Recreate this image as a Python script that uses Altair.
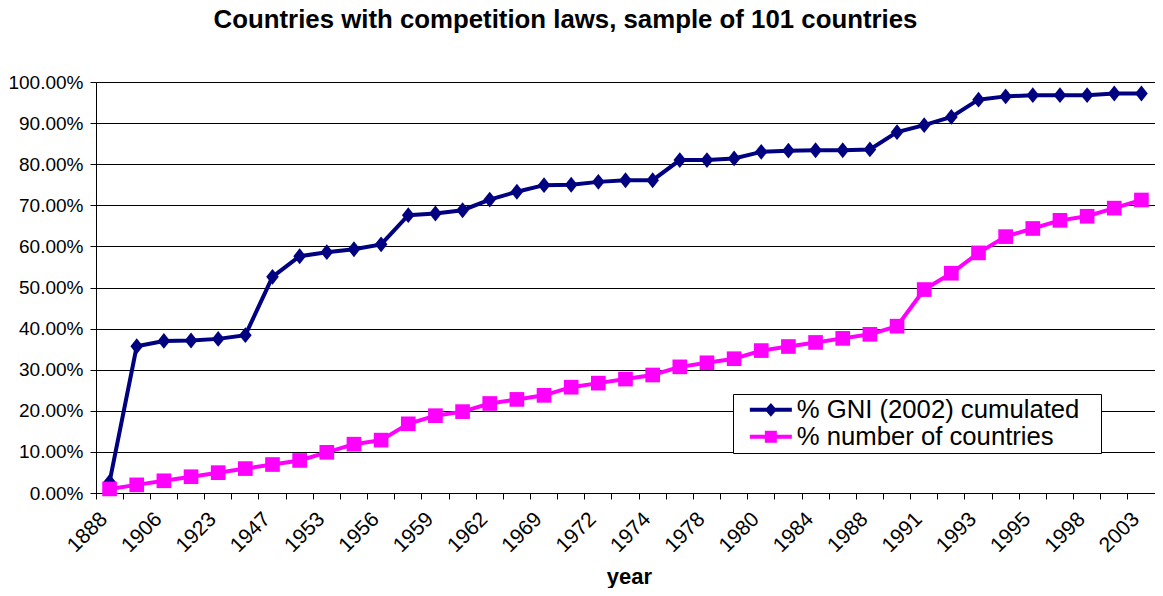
import altair as alt
import pandas as pd

# ---- data ----
year_labels = ["1888", "1906", "1923", "1947", "1953", "1956", "1959", "1962", "1969", "1972",
               "1974", "1978", "1980", "1984", "1988", "1991", "1993", "1995", "1998", "2003"]

gni_cum = [0.027, 0.357, 0.370, 0.371, 0.375, 0.384, 0.526, 0.576, 0.586, 0.593,
           0.605, 0.676, 0.680, 0.688, 0.714, 0.733, 0.749, 0.750, 0.757, 0.761,
           0.761, 0.810, 0.810, 0.814, 0.830, 0.833, 0.834, 0.834, 0.836, 0.878,
           0.895, 0.915, 0.957, 0.965, 0.968, 0.968, 0.968, 0.972, 0.972]

countries_share = [0.0099, 0.0198, 0.0297, 0.0396, 0.0495, 0.0594, 0.0693, 0.0792, 0.0990, 0.1188,
                   0.1287, 0.1683, 0.1881, 0.1980, 0.2178, 0.2277, 0.2376, 0.2574, 0.2673, 0.2772,
                   0.2871, 0.3069, 0.3168, 0.3267, 0.3465, 0.3564, 0.3663, 0.3762, 0.3861, 0.4059,
                   0.4950, 0.5347, 0.5842, 0.6238, 0.6436, 0.6634, 0.6733, 0.6931, 0.7129]

series_names = ["% GNI (2002) cumulated", "% number of countries"]
series_colors = ["#000080", "#FF00FF"]
y_ticks = [0.0, 0.1, 0.2, 0.3, 0.4, 0.5, 0.6, 0.7, 0.8, 0.9, 1.0]

# ---- table ----
n = len(gni_cum)
rows = []
for i in range(n):
    rows.append({"idx": i, "series": series_names[0], "value": gni_cum[i]})
    rows.append({"idx": i, "series": series_names[1], "value": countries_share[i]})
df = pd.DataFrame(rows)

FONT = "Liberation Sans"

label_array = "[" + ",".join("'" + y + "'" for y in year_labels) + "]"
label_expr = f"datum.value % 2 == 0 ? {label_array}[datum.value / 2] : ''"

x_enc = alt.X(
    "idx:O",
    bandPosition=0.5,
    scale=alt.Scale(type="band", paddingInner=0, paddingOuter=0),
    axis=alt.Axis(
        title="year", titleFont=FONT, titleFontSize=22, titleFontWeight="bold", titleColor="black",
        titleY=90, titleX=533, titleBaseline="alphabetic",
        labelExpr=label_expr, labelAngle=315, labelAlign="right", labelBaseline="top",
        labelFont=FONT, labelFontSize=21, labelColor="black", labelPadding=9, labelOffset=-13,
        labelOverlap=False, bandPosition=0, tickSize=6, tickColor="black", domainColor="black",
        grid=False,
    ),
)
y_enc = alt.Y(
    "value:Q",
    scale=alt.Scale(domain=[0, 1], nice=False),
    axis=alt.Axis(
        title=None, format=".2%", values=y_ticks, labelFont=FONT, labelFontSize=19,
        labelColor="black", labelPadding=7, tickSize=6, tickColor="black", domainColor="black",
        grid=True, gridColor="black", gridWidth=1,
    ),
)

base = alt.Chart(df)

tall_diamond = "M0,-1.25L1,0L0,1.25L-1,0Z"

gni_layer = base.transform_filter(alt.datum.series == series_names[0]).mark_line(
    color=series_colors[0], strokeWidth=4,
    point=alt.OverlayMarkDef(shape=tall_diamond, size=160, filled=True, color=series_colors[0], opacity=1),
).encode(x=x_enc, y=y_enc)

cnt_layer = base.transform_filter(alt.datum.series == series_names[1]).mark_line(
    color=series_colors[1], strokeWidth=4,
    point=alt.OverlayMarkDef(shape="square", size=215, filled=True, color=series_colors[1], opacity=1),
).encode(x=x_enc, y=y_enc)

# legend-only layer (no marks drawn): line + marker symbols as custom paths;
# the zero-area sub-path at the far right only widens the legend frame
diamond_sym = "M-3.5,-0.33H3.5V0.33H-3.5Z M0,-1.15L1,0L0,1.15L-1,0Z M54.5,0L54.5,0"
square_sym = "M-3.5,-0.33H3.5V0.33H-3.5Z M-1,-1H1V1H-1Z M54.5,0L54.5,0"
legend_def = alt.Legend(
    title=None, orient="none", legendX=637, legendY=312,
    labelFont=FONT, labelFontSize=25.7, labelColor="black", labelLimit=500,
    symbolSize=144, symbolOffset=22, labelOffset=13, symbolStrokeWidth=0,
    padding=3, rowPadding=0, strokeColor="black", fillColor="white",
)
legend_layer = base.transform_filter("false").mark_point(filled=True, opacity=1).encode(
    x=x_enc, y=y_enc,
    color=alt.Color("series:N", scale=alt.Scale(domain=series_names, range=series_colors), legend=legend_def),
    shape=alt.Shape("series:N", scale=alt.Scale(domain=series_names, range=[diamond_sym, square_sym]), legend=legend_def),
)

chart = alt.layer(gni_layer, cnt_layer, legend_layer).properties(
    width=1059, height=411,
    title=alt.TitleParams(
        text="Countries with competition laws, sample of 101 countries",
        font=FONT, fontSize=25.8, fontWeight="bold", color="black",
        anchor="middle", dx=-60, offset=39,
    ),
    autosize=alt.AutoSizeParams(type="none"),
    padding={"left": 88, "top": 74, "right": 0, "bottom": 95},
).configure_view(stroke="#808080", strokeWidth=1).configure(background="white")

chart.save("out.html", embed_options={"renderer": "svg", "actions": False})
